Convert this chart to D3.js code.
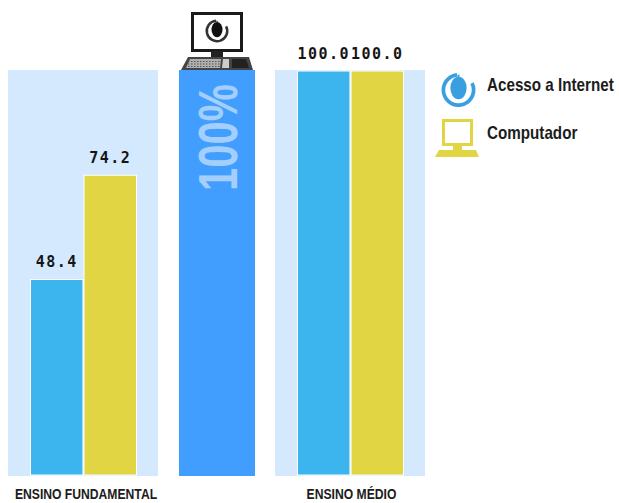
<!DOCTYPE html>
<html>
<head>
<meta charset="utf-8">
<script src="https://cdn.jsdelivr.net/npm/d3@7/dist/d3.min.js"></script>
<style>
  html, body { margin: 0; padding: 0; background: #fff; }
  svg { display: block; }
  .val { font-family: "DejaVu Sans Mono", monospace; font-weight: bold; font-size: 15px; fill: #151515; }
  .lab { font-family: "Liberation Sans", sans-serif; font-weight: bold; fill: #1c1c1c; }
</style>
</head>
<body>
<svg id="svg" width="619" height="503"></svg>
<script>
var groups = ["ENSINO FUNDAMENTAL", "ENSINO MÉDIO"];
var series = ["Acesso a Internet", "Computador"];
var acessoInternet = [48.4, 100.0];
var computador = [74.2, 100.0];
var centerLabel = "100%";
var seriesColors = ["#3cb4ee", "#e2d543"];
var panelColor = "#d4e9fe";
var centerColor = "#429efe";

var svg = d3.select("#svg");

var yScale = d3.scaleLinear().domain([0, 100]).range([475, 71]);
var panelX = d3.scaleOrdinal().domain(groups).range([8, 275]);
var panelWidth = 150;
var barX = d3.scaleBand().domain(series).range([22.5, 128.5]).paddingInner(0.02);

// squeeze text horizontally, no condensed font is installed
function narrow(selection, factor) {
  selection.each(function() {
    var len = this.getComputedTextLength();
    d3.select(this)
      .attr("textLength", len * factor)
      .attr("lengthAdjust", "spacingAndGlyphs");
  });
}

// background panels
svg.selectAll(".panel")
  .data(groups)
  .enter()
  .append("rect")
  .attr("class", "panel")
  .attr("x", d => panelX(d))
  .attr("y", 70)
  .attr("width", panelWidth)
  .attr("height", 406)
  .attr("fill", panelColor);

// middle 100% column
svg.append("rect")
  .attr("x", 179)
  .attr("y", 70)
  .attr("width", 76)
  .attr("height", 406)
  .attr("fill", centerColor);

svg.append("text")
  .attr("transform", "translate(237, 191) rotate(-90)")
  .attr("font-family", "'Liberation Sans', sans-serif")
  .attr("font-weight", "bold")
  .attr("font-size", 55)
  .attr("textLength", 107)
  .attr("lengthAdjust", "spacingAndGlyphs")
  .attr("fill", "#a4cffc")
  .text(centerLabel);

// bars
var g = svg.selectAll(".group")
  .data(groups)
  .enter()
  .append("g")
  .attr("class", "group")
  .attr("transform", d => `translate(${panelX(d)}, 0)`);

g.each(function(name, i) {
  var values = [acessoInternet[i], computador[i]];
  var sel = d3.select(this);
  series.forEach(function(s, j) {
    sel.append("rect")
      .attr("x", barX(s))
      .attr("y", yScale(values[j]))
      .attr("width", barX.bandwidth())
      .attr("height", yScale(0) - yScale(values[j]))
      .attr("fill", seriesColors[j])
      .attr("stroke", "#fff")
      .attr("stroke-width", 1);
    sel.append("text")
      .attr("class", "val")
      .attr("x", barX(s) + barX.bandwidth() / 2)
      .attr("y", yScale(values[j]) - 12)
      .attr("text-anchor", "middle")
      .attr("letter-spacing", 1.5)
      .text(values[j].toFixed(1));
  });
  sel.append("text")
    .attr("class", "lab")
    .attr("x", panelWidth / 2 + (i == 0 ? 3 : 1.5))
    .attr("y", 499)
    .attr("text-anchor", "middle")
    .attr("font-size", 15)
    .text(name)
    .call(narrow, 0.81);
});

// legend
svg.selectAll(".leg")
  .data(series)
  .enter()
  .append("text")
  .attr("class", "lab leg")
  .attr("x", 487)
  .attr("y", (d, i) => 91 + i * 48)
  .attr("font-size", 19)
  .text(d => d)
  .call(narrow, 0.8);

// mouse icon, used in legend and on the screen
function mouseIcon(parent, cx, cy, r, ring, body) {
  var a = parent.append("g").attr("transform", `translate(${cx}, ${cy})`);
  a.append("path")
    .attr("d", d3.arc().innerRadius(r * 0.78).outerRadius(r).startAngle(1.1).endAngle(Math.PI * 2 - 0.1)())
    .attr("fill", ring);
  a.append("ellipse")
    .attr("cx", 0)
    .attr("cy", -r * 0.12)
    .attr("rx", r * 0.48)
    .attr("ry", r * 0.66)
    .attr("fill", body);
  // cable from the body up to the ring
  a.append("path")
    .attr("d", `M0,${-r * 0.75}V${-r * 0.9}`)
    .attr("stroke", ring)
    .attr("stroke-width", r * 0.12);
}

mouseIcon(svg, 458.5, 90, 17, "#3a9fe0", "#3a9fe0");

// computer icon in legend
var pc = svg.append("g").attr("fill", seriesColors[1]);
pc.append("rect").attr("x", 443.5).attr("y", 120.5).attr("width", 28).attr("height", 24)
  .attr("fill", "#fff").attr("stroke", seriesColors[1]).attr("stroke-width", 3);
pc.append("rect").attr("x", 453).attr("y", 146).attr("width", 9).attr("height", 4);
pc.append("path").attr("d", "M439,150H476L479,157H435Z");

// computer with keyboard above the middle column
var monitor = svg.append("g");
monitor.append("rect").attr("x", 192.5).attr("y", 13.5).attr("width", 49).attr("height", 37)
  .attr("fill", "#fff").attr("stroke", "#1a1a1a").attr("stroke-width", 3);
mouseIcon(monitor, 217, 31, 11.5, "#333", "#111");
monitor.append("rect").attr("x", 211).attr("y", 51).attr("width", 12).attr("height", 7).attr("fill", "#222");
monitor.append("path").attr("d", "M188,57H249L253,70H181Z").attr("fill", "#444");
monitor.append("path").attr("d", "M190,59H221L220,68H186Z").attr("fill", "#b0b0b0");
monitor.append("path").attr("d", "M223,59H229V68H222Z").attr("fill", "#ccc");
monitor.append("path").attr("d", "M232,59H246L249,68H232Z").attr("fill", "#222");
// key rows
[61.5, 64, 66.5].forEach(function(y) {
  monitor.append("line")
    .attr("x1", 188).attr("x2", 220)
    .attr("y1", y).attr("y2", y)
    .attr("stroke", "#555")
    .attr("stroke-dasharray", "1.5 1.5");
});
</script>
</body>
</html>
